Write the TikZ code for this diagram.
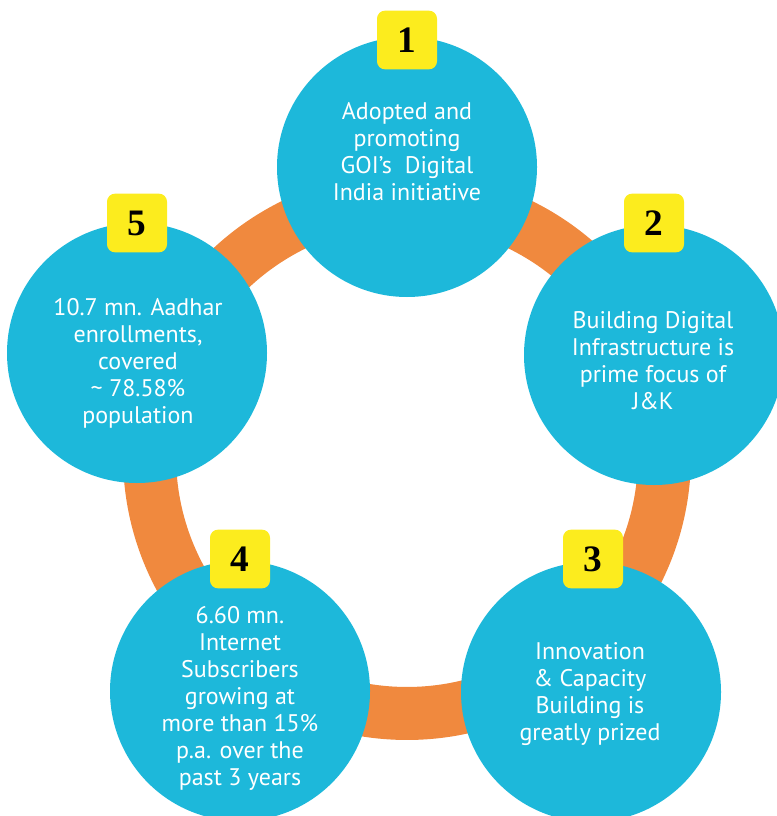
\documentclass[tikz,border=0pt]{standalone}
\usepackage{fontspec}
\setmainfont{PT Sans}
\newfontfamily\numfont{Liberation Serif}
\definecolor{ringorange}{RGB}{240,137,62}
\definecolor{discblue}{RGB}{29,184,218}
\definecolor{badgeyellow}{RGB}{252,236,30}
\begin{document}
\begin{tikzpicture}[x=0.75pt, y=-0.75pt]
            \tikzstyle{disc}=[circle,fill=discblue,minimum size=195pt,inner sep=0pt]
            \tikzstyle{badge}=[rectangle,rounded corners=6pt,fill=badgeyellow,minimum width=45pt,minimum height=44pt,inner sep=0pt,font=\numfont\bfseries\fontsize{28}{28}\selectfont]
            \tikzstyle{blurb}=[align=center,text=white,inner sep=0pt,font=\fontsize{18}{20.25}\selectfont]
            \useasboundingbox (0,0) rectangle (776,816);

            % ring behind the discs
            \node[circle,minimum size=0pt,inner sep=0pt] (R) at (407,456) {};
            \draw[ringorange, line width=39.75pt] (R) circle[radius=193.1pt];

            \node[disc] (C_1) at (407,167) {};
            \node[disc] (C_2) at (654,355) {};
            \node[disc] (C_3) at (591,692) {};
            \node[disc] (C_4) at (240,691) {};
            \node[disc] (C_5) at (137,353) {};

            \node[badge] (B_1) at (407,40)  {1};
            \node[badge] (B_2) at (654,223) {2};
            \node[badge] (B_3) at (593,559) {3};
            \node[badge] (B_4) at (240,559) {4};
            \node[badge] (B_5) at (137,223) {5};

            \node[blurb] (T_1) at (407,152) {Adopted and\\promoting\\GOI’s~ Digital\\India initiative};
            \node[blurb] (T_2) at (653,361) {Building Digital\\Infrastructure is\\prime focus of\\J\&K};
            \node[blurb] (T_3) at (590,694) {Innovation\\\&~Capacity\\Building is\\greatly prized};
            \node[blurb] (T_4) at (240,698) {6.60 mn.\\Internet\\Subscribers\\growing at\\more than 15\%\\p.a. over the\\past 3 years};
            \node[blurb] (T_5) at (138,363) {10.7 mn. Aadhar\\enrollments,\\covered\\\textasciitilde\ 78.58\%\\population};
        \end{tikzpicture}
\end{document}
